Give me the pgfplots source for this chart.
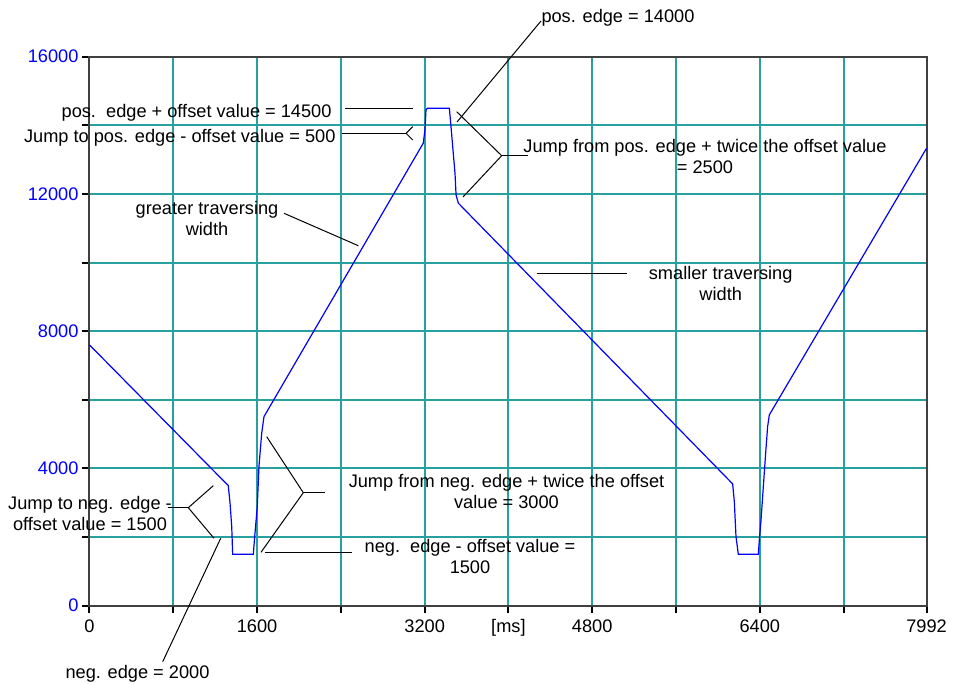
\documentclass[border=0pt]{standalone}
\usepackage{pgfplots}
\pgfplotsset{compat=1.18}
\usepackage{fontspec}
\setmainfont{Liberation Sans}
\definecolor{gridteal}{RGB}{40,160,160}
\definecolor{curveblue}{RGB}{0,0,255}
\definecolor{axisgray}{RGB}{64,64,64}
\begin{document}
\begin{tikzpicture}[font=\fontsize{9.1}{10.5}\selectfont]
\useasboundingbox (-44.75pt,-39.15pt) rectangle (432.25pt,302.85pt);
\begin{axis}[
  at={(0,0)}, anchor=south west,
  scale only axis, width=418.5pt, height=274.5pt,
  xmin=0, xmax=7992, ymin=0, ymax=16000,
  enlargelimits=false, clip=false,
  scaled ticks=false,
  xtick={0,800,1600,2400,3200,4000,4800,5600,6400,7200,7992},
  xticklabels={0,,1600,,3200,{[ms]},4800,,6400,,7992},
  ytick={0,2000,4000,6000,8000,10000,12000,14000,16000},
  yticklabels={0,,4000,,8000,,12000,,16000},
  /pgf/number format/assume math mode=true,
  tick pos=left, tick align=outside,
  major tick length=3.5pt,
  every tick/.style={black, line width=1pt},
  grid=major,
  major grid style={gridteal, line width=1pt},
  axis line style={axisgray, line width=1pt},
  xticklabel style={black, yshift=0pt},
  yticklabel style={curveblue, xshift=1.5pt},
]
\addplot[curveblue, line width=0.6pt] coordinates {
(0,7600) (1325,3500) (1342,2990) (1358,2300) (1367,1500) (1564,1500)
(1580,2110) (1602,2890) (1618,4050) (1644,5020) (1666,5510)
(3187,13480) (3203,13870) (3213,14450) (3226,14500) (3436,14500)
(3449,14060) (3468,13380) (3490,12600) (3500,11970) (3522,11730)
(6141,3550) (6157,3030) (6173,2010) (6195,1500) (6386,1500)
(6396,1920) (6412,2500) (6434,3470) (6456,4440) (6475,5220) (6491,5560)
(7992,13330)
};
\end{axis}
\begin{scope}[x=0.5pt, y=-0.5pt, shift={(-44.75pt,302.85pt)}, line width=0.5pt, every node/.style={inner sep=0pt, align=center}]
% pos. edge = 14000
\node[anchor=west] at (541,18) {pos. edge = 14000};
\draw (541,21)--(457,122);
% jump from pos edge
\node at (705,157) {Jump from pos. edge + twice the offset value\\= 2500};
\draw (528,155.7)--(501.7,155.7);
\draw (456.7,111.7)--(501.7,155.7)--(463,197);
% pos edge + offset
\node[anchor=east] at (332,113) {pos.\ \ edge + offset value = 14500};
\draw (345,108.3)--(412.7,108.3);
% jump to pos edge
\node[anchor=east] at (336,138.3) {Jump to pos. edge - offset value = 500};
\draw (341.7,133.3)--(406,133.3);
\draw (412.7,126.7)--(406,133.3)--(412.7,140);
% greater traversing width
\node at (207,219) {greater traversing\\width};
\draw (284,213.3)--(358.3,245.7);
% smaller traversing width
\node at (720.7,283.3) {smaller traversing\\width};
\draw (536.7,273.7)--(626.7,273.7);
% jump to neg edge
\node at (90,514) {Jump to neg. edge -\\offset value = 1500};
\draw (168.3,507.7)--(188.3,507.7);
\draw (213.3,485.7)--(188.3,507.7)--(214,538.3);
% neg edge
\node at (137.5,673.3) {neg. edge = 2000};
\draw (162.7,661.7)--(220.7,538.3);
% jump from neg edge
\node at (506.5,491.3) {Jump from neg. edge + twice the offset\\value = 3000};
\draw (325,492.7)--(303.3,492.7);
\draw (266.7,436.7)--(303.3,492.7)--(261,552.3);
% neg edge - offset
\node at (470,556.2) {neg.\ \ edge - offset value =\\1500};
\draw (265,552.7)--(351.7,552.7);
\end{scope}
\end{tikzpicture}
\end{document}
